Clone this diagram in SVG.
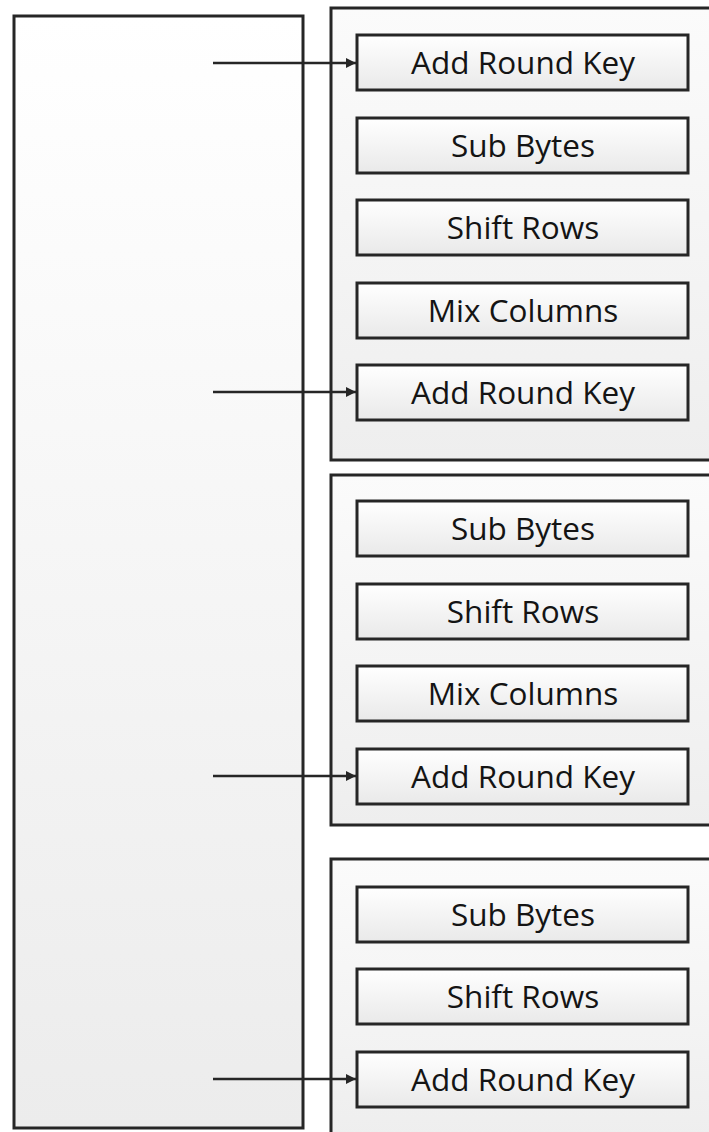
<svg xmlns="http://www.w3.org/2000/svg" width="709" height="1132" viewBox="0 0 709 1132">
  <style>
    .frame { fill: url(#frameFill); stroke: #262626; stroke-width: 3; }
    .panel { fill: url(#panelFill); stroke: #262626; stroke-width: 3; }
    .step { fill: url(#stepFill); stroke: #262626; stroke-width: 3; }
    .label { font-family: "Open Sans", "Liberation Sans", sans-serif; font-size: 31.5px; fill: #141414; text-anchor: middle; }
    .wire { stroke: #262626; stroke-width: 2.5; fill: none; marker-end: url(#arrow); }
  </style>
  <defs>
    <linearGradient id="frameFill" x1="0" y1="0" x2="0" y2="1">
      <stop offset="0" stop-color="#ffffff"/>
      <stop offset="1" stop-color="#ececec"/>
    </linearGradient>
    <linearGradient id="panelFill" x1="0" y1="0" x2="0" y2="1">
      <stop offset="0" stop-color="#fbfbfb"/>
      <stop offset="1" stop-color="#eeeeee"/>
    </linearGradient>
    <linearGradient id="stepFill" x1="0" y1="0" x2="0" y2="1">
      <stop offset="0" stop-color="#ffffff"/>
      <stop offset="1" stop-color="#e9e9e9"/>
    </linearGradient>
    <marker id="arrow" viewBox="0 0 10 10" refX="10" refY="5" markerWidth="4.5" markerHeight="4" markerUnits="strokeWidth" orient="auto">
      <path d="M0,0 L10,5 L0,10 z" fill="#262626"/>
    </marker>
  </defs>

  <!-- outer key column -->
  <g id="key-column">
    <rect class="frame" x="14" y="16" width="289" height="1112"/>
  </g>

  <!-- round panels -->
  <g id="round-initial">
    <rect class="panel" x="331" y="8" width="390" height="452"/>
  </g>
  <g id="round-middle">
    <rect class="panel" x="331" y="475" width="390" height="350"/>
  </g>
  <g id="round-final">
    <rect class="panel" x="331" y="859" width="390" height="280"/>
  </g>

  <!-- steps of the first panel -->
  <g id="ark-1"><rect class="step" x="357" y="35" width="331" height="55"/><text class="label" x="523" y="74">Add Round Key</text></g>
  <g id="sub-1"><rect class="step" x="357" y="118" width="331" height="55"/><text class="label" x="523" y="157">Sub Bytes</text></g>
  <g id="shift-1"><rect class="step" x="357" y="200" width="331" height="55"/><text class="label" x="523" y="239">Shift Rows</text></g>
  <g id="mix-1"><rect class="step" x="357" y="283" width="331" height="55"/><text class="label" x="523" y="322">Mix Columns</text></g>
  <g id="ark-2"><rect class="step" x="357" y="365" width="331" height="55"/><text class="label" x="523" y="404">Add Round Key</text></g>

  <!-- steps of the second panel -->
  <g id="sub-2"><rect class="step" x="357" y="501" width="331" height="55"/><text class="label" x="523" y="540">Sub Bytes</text></g>
  <g id="shift-2"><rect class="step" x="357" y="584" width="331" height="55"/><text class="label" x="523" y="623">Shift Rows</text></g>
  <g id="mix-2"><rect class="step" x="357" y="666" width="331" height="55"/><text class="label" x="523" y="705">Mix Columns</text></g>
  <g id="ark-3"><rect class="step" x="357" y="749" width="331" height="55"/><text class="label" x="523" y="788">Add Round Key</text></g>

  <!-- steps of the last panel -->
  <g id="sub-3"><rect class="step" x="357" y="887" width="331" height="55"/><text class="label" x="523" y="926">Sub Bytes</text></g>
  <g id="shift-3"><rect class="step" x="357" y="969" width="331" height="55"/><text class="label" x="523" y="1008">Shift Rows</text></g>
  <g id="ark-4"><rect class="step" x="357" y="1052" width="331" height="55"/><text class="label" x="523" y="1091">Add Round Key</text></g>

  <!-- round key feeds -->
  <g id="connectors">
    <line class="wire" x1="213" y1="63" x2="356" y2="63"/>
    <line class="wire" x1="213" y1="392" x2="356" y2="392"/>
    <line class="wire" x1="213" y1="776" x2="356" y2="776"/>
    <line class="wire" x1="213" y1="1079" x2="356" y2="1079"/>
  </g>
</svg>
